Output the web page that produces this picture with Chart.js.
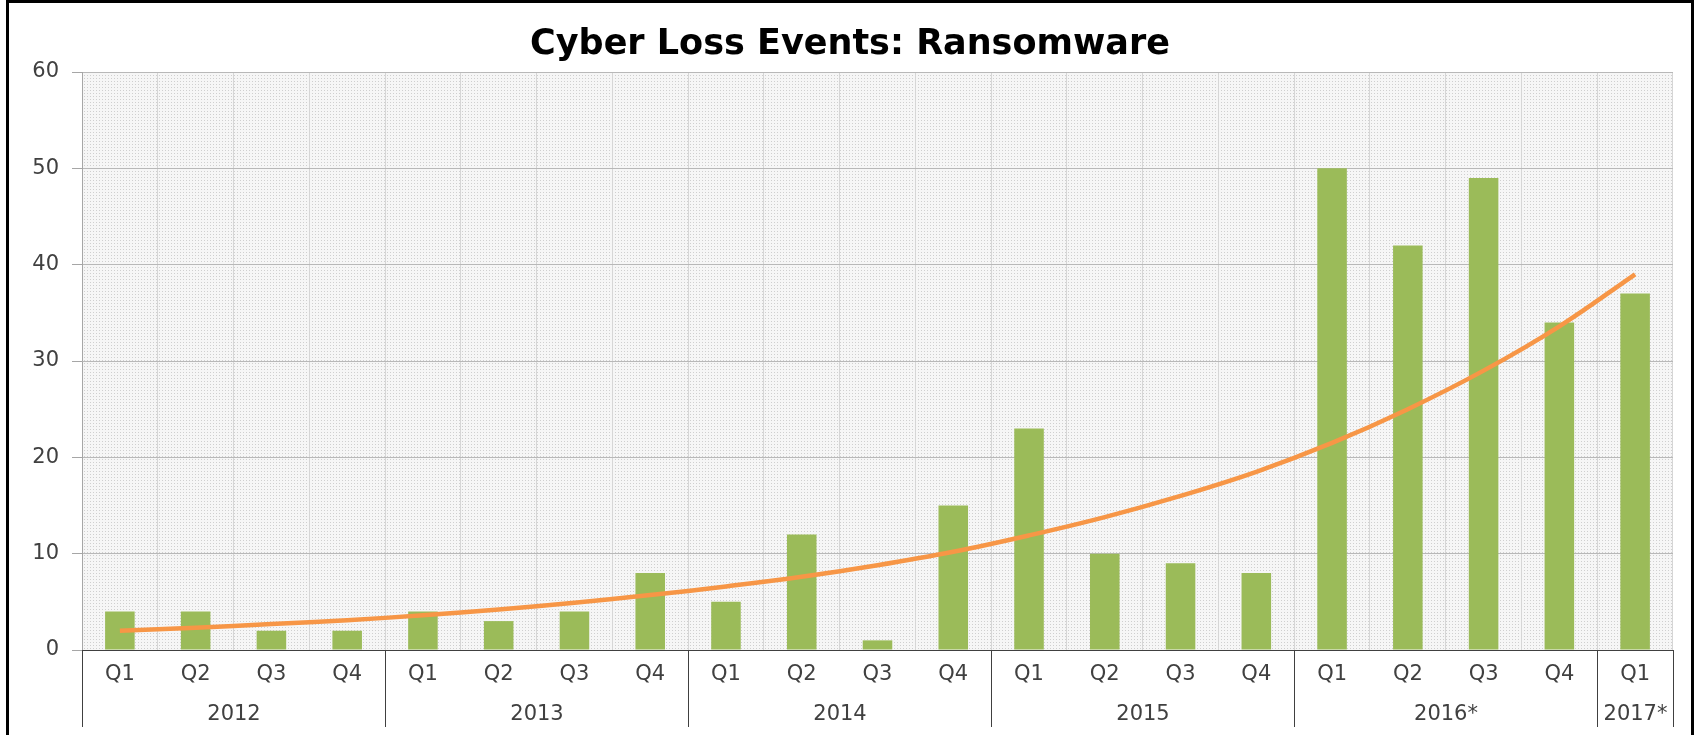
<!DOCTYPE html>
<html>
<head>
<meta charset="utf-8">
<script src="https://cdn.jsdelivr.net/npm/chart.js@4.4.0/dist/chart.umd.min.js"></script>
<style>
  body { margin: 0; background: #fff; overflow: hidden; }
  #wrap { position: absolute; left: 0; top: 0; width: 1700px; height: 735px; }
</style>
</head>
<body>
<div id="wrap"><canvas id="chart" width="1700" height="735"></canvas></div>
<script>
const quarters = ['Q1','Q2','Q3','Q4', 'Q1','Q2','Q3','Q4', 'Q1','Q2','Q3','Q4',
                  'Q1','Q2','Q3','Q4', 'Q1','Q2','Q3','Q4', 'Q1'];
const years = ['2012', '2013', '2014', '2015', '2016*', '2017*'];
const quarters_per_year = [4, 4, 4, 4, 4, 1];

const loss_events = [4, 4, 2, 2,  4, 3, 4, 8,  5, 12, 1, 15,  23, 10, 9, 8,  50, 42, 49, 34,  37];
// exponential trend line
const trend_line = [2.0, 2.3, 2.7, 3.1,  3.6, 4.2, 4.9, 5.7,  6.6, 7.6, 8.8, 10.2,
                    11.9, 13.8, 16.0, 18.5,  21.5, 25.0, 29.0, 33.6,  39.0];

const y_ticks = [0, 10, 20, 30, 40, 50, 60];

const FONT = "'DejaVu Sans', sans-serif";
const TEXT_COLOR = '#404040';

// light dotted fill of the plot area
const makeDotPattern = (ctx) => {
    const tile = document.createElement('canvas');
    tile.width = 3;
    tile.height = 3;
    const t = tile.getContext('2d');
    t.fillStyle = '#f6f6f6';
    t.fillRect(0, 0, 3, 3);
    t.fillStyle = '#cfcfcf';
    t.fillRect(0, 0, 1, 1);
    return ctx.createPattern(tile, 'repeat');
};

const frame = {
    id: 'frame',
    beforeDraw(chart) {
        const ctx = chart.ctx;
        const a = chart.chartArea;
        ctx.save();
        ctx.fillStyle = makeDotPattern(ctx);
        ctx.fillRect(a.left, a.top, a.right - a.left, a.bottom - a.top);
        ctx.restore();
    },
    afterDraw(chart) {
        const ctx = chart.ctx;
        const a = chart.chartArea;
        const x = chart.scales.x;
        ctx.save();

        // title
        ctx.fillStyle = '#000';
        ctx.font = "bold 35px " + FONT;
        ctx.textAlign = 'center';
        ctx.textBaseline = 'middle';
        ctx.fillText('Cyber Loss Events: Ransomware', 850, 45);

        // year group labels and dividers
        ctx.strokeStyle = '#404040';
        ctx.lineWidth = 1;
        ctx.font = "21px " + FONT;
        ctx.fillStyle = TEXT_COLOR;
        let start = 0;
        const half = (x.getPixelForValue(1) - x.getPixelForValue(0)) / 2;
        const edge = (i) => Math.round(x.getPixelForValue(i) - half) + 0.5;
        years.forEach((year, i) => {
            const end = start + quarters_per_year[i];
            const left = edge(start);
            const right = edge(end);
            ctx.beginPath();
            ctx.moveTo(left, a.bottom);
            ctx.lineTo(left, 727);
            ctx.stroke();
            if (i == years.length - 1) {
                ctx.beginPath();
                ctx.moveTo(right, a.bottom);
                ctx.lineTo(right, 727);
                ctx.stroke();
            }
            ctx.fillText(year, (left + right) / 2, 715);
            start = end;
        });

        // outer frame
        ctx.strokeStyle = '#000';
        ctx.lineWidth = 3;
        ctx.strokeRect(7.5, 1.5, 1685, 800);
        ctx.restore();
    }
};

document.addEventListener('DOMContentLoaded', () => {
    const ctx = document.getElementById('chart').getContext('2d');
    new Chart(ctx, {
        data: {
            labels: quarters,
            datasets: [
                {
                    type: 'line',
                    data: trend_line,
                    borderColor: '#F79646',
                    borderWidth: 4.5,
                    pointRadius: 0,
                    tension: 0.4,
                    order: 0
                },
                {
                    type: 'bar',
                    data: loss_events,
                    backgroundColor: '#9BBB59',
                    barPercentage: 0.39,
                    categoryPercentage: 1.0,
                    order: 1
                }
            ]
        },
        options: {
            responsive: false,
            animation: false,
            layout: {
                padding: { top: 72, right: 27, left: 0, bottom: 0 }
            },
            plugins: {
                legend: { display: false },
                tooltip: { enabled: false },
                title: { display: false }
            },
            scales: {
                x: {
                    offset: true,
                    grid: {
                        offset: true,
                        color: '#d6d6d6',
                        drawTicks: false
                    },
                    border: { color: '#404040', width: 1 },
                    ticks: {
                        color: TEXT_COLOR,
                        font: { family: FONT, size: 21 },
                        padding: 12,
                        maxRotation: 0,
                        autoSkip: false
                    },
                    afterFit: (scale) => { scale.height = 85; }
                },
                y: {
                    min: 0,
                    max: 60,
                    afterBuildTicks: (scale) => {
                        scale.ticks = y_ticks.map(v => ({ value: v }));
                    },
                    grid: {
                        color: '#b8b8b8',
                        tickLength: 10,
                        tickColor: '#a6a6a6'
                    },
                    border: { color: '#a6a6a6' },
                    ticks: {
                        color: TEXT_COLOR,
                        font: { family: FONT, size: 21 },
                        padding: 13
                    },
                    afterFit: (scale) => { scale.width = 82; }
                }
            }
        },
        plugins: [frame]
    });
});
</script>
</body>
</html>
